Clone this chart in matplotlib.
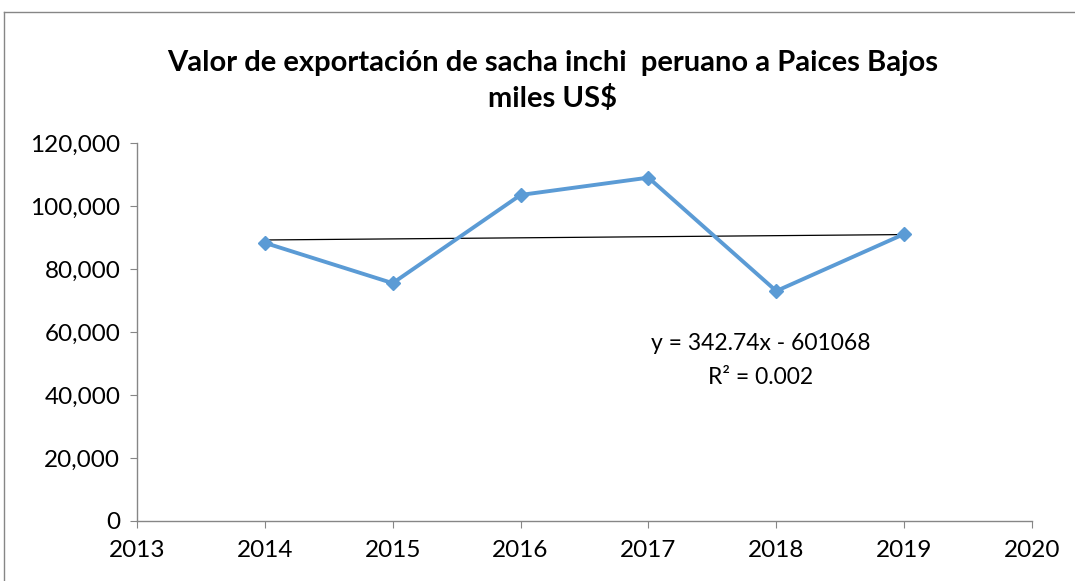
import matplotlib
matplotlib.use('Agg')
import matplotlib.pyplot as plt
import numpy as np

# Datos
years = [2014, 2015, 2016, 2017, 2018, 2019]
valores = [88300, 75500, 103500, 109000, 73000, 91100]
y_ticks = [0, 20000, 40000, 60000, 80000, 100000, 120000]
x_ticks = [2013, 2014, 2015, 2016, 2017, 2018, 2019, 2020]

plt.rcParams['font.family'] = ['Lato', 'DejaVu Sans']

fig = plt.figure(figsize=(10.75, 5.81), dpi=100)
ax = fig.add_axes([0.1274, 0.1033, 0.8326, 0.6506])

# Linea de tendencia (minimos cuadrados)
coef = np.polyfit(years, valores, 1)
x_tr = np.array([years[0], years[-1]])
ax.plot(x_tr, np.polyval(coef, x_tr), color='black', linewidth=0.9, zorder=2)

ax.plot(years, valores, color='#5B9BD5', linewidth=2.8, marker='D',
        markersize=7, zorder=3)

ax.set_xlim(2013, 2020)
ax.set_ylim(0, 120000)
ax.set_xticks(x_ticks)
ax.set_yticks(y_ticks)
ax.set_yticklabels([f'{v:,}' for v in y_ticks])
ax.tick_params(axis='both', labelsize=17.5, color='#868686', length=5,
               direction='out')
ax.tick_params(axis='x', pad=9)
ax.tick_params(axis='y', pad=7)

for s in ['top', 'right']:
    ax.spines[s].set_visible(False)
for s in ['left', 'bottom']:
    ax.spines[s].set_color('#868686')
    ax.spines[s].set_linewidth(1)

# Ecuacion
ax.text(2017.88, 51000, 'y = 342.74x - 601068\nR² = 0.002', ha='center',
        va='center', fontsize=16.5, linespacing=1.8)

fig.text(0.514, 0.861, 'Valor de exportación de sacha inchi  peruano a Paices Bajos\nmiles US$',
         ha='center', va='center', fontsize=21, fontweight='bold', linespacing=1.4)

# Borde del grafico
fig.add_artist(plt.Line2D([4 / 1075, 4 / 1075], [0, 1 - 12 / 581], color='#868686', linewidth=1))
fig.add_artist(plt.Line2D([4 / 1075, 1], [1 - 12 / 581, 1 - 12 / 581], color='#868686', linewidth=1))

fig.savefig('out.png', dpi=100)
